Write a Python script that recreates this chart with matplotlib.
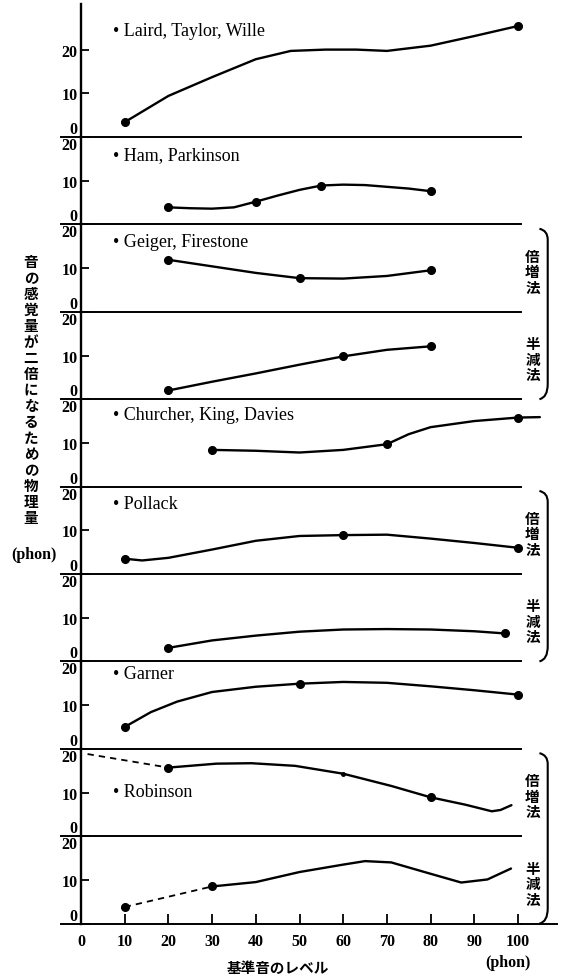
import matplotlib

matplotlib.use("Agg")
import matplotlib.pyplot as plt
from matplotlib.path import Path
from matplotlib.patches import PathPatch

# ---- data (x: reference level, phon; y: phon) ----
LAIRD_X = [10, 20, 30, 40, 48, 56, 63, 70, 80, 90, 100]
LAIRD_Y = [3.4, 9.4, 13.7, 17.8, 19.7, 20.0, 20.0, 19.7, 20.9, 23.1, 25.4]
LAIRD_MX = [10, 100]
LAIRD_MY = [3.4, 25.4]

HAM_X = [20, 25, 30, 35, 40, 45, 50, 55, 60, 65, 70, 75, 80]
HAM_Y = [3.9, 3.7, 3.6, 3.9, 5.2, 6.6, 7.9, 8.9, 9.1, 9.0, 8.6, 8.2, 7.6]
HAM_MX = [20, 40, 55, 80]
HAM_MY = [3.9, 5.2, 8.9, 7.6]

GEIGER_D_X = [20, 30, 40, 50, 60, 70, 80]
GEIGER_D_Y = [11.9, 10.4, 8.9, 7.7, 7.6, 8.2, 9.5]
GEIGER_D_MX = [20, 50, 80]
GEIGER_D_MY = [11.9, 7.7, 9.5]

GEIGER_H_X = [20, 30, 40, 50, 60, 70, 80]
GEIGER_H_Y = [2.0, 4.0, 5.9, 7.9, 9.8, 11.3, 12.1]
GEIGER_H_MX = [20, 60, 80]
GEIGER_H_MY = [2.0, 9.8, 12.1]

CHURCHER_X = [30, 40, 50, 60, 70, 75, 80, 90, 100, 105]
CHURCHER_Y = [8.4, 8.2, 7.8, 8.4, 9.7, 12.0, 13.6, 15.0, 15.8, 15.9]
CHURCHER_MX = [30, 70, 100]
CHURCHER_MY = [8.4, 9.7, 15.8]

POLLACK_D_X = [10, 14, 20, 30, 40, 50, 60, 70, 80, 90, 100]
POLLACK_D_Y = [3.5, 3.1, 3.7, 5.6, 7.6, 8.7, 8.9, 9.0, 8.1, 7.1, 6.0]
POLLACK_D_MX = [10, 60, 100]
POLLACK_D_MY = [3.5, 8.9, 6.0]

POLLACK_H_X = [20, 30, 40, 50, 60, 70, 80, 90, 97]
POLLACK_H_Y = [3.1, 4.8, 5.9, 6.8, 7.3, 7.4, 7.3, 6.9, 6.4]
POLLACK_H_MX = [20, 97]
POLLACK_H_MY = [3.1, 6.4]

GARNER_X = [10, 16, 22, 30, 40, 50, 60, 70, 80, 90, 100]
GARNER_Y = [5.0, 8.4, 10.8, 13.0, 14.2, 14.9, 15.3, 15.1, 14.3, 13.4, 12.4]
GARNER_MX = [10, 50, 100]
GARNER_MY = [5.0, 14.9, 12.4]

ROB_D_DASH_X = [1.5, 20]
ROB_D_DASH_Y = [18.8, 15.7]
ROB_D_X = [20, 31, 39, 49, 60, 71, 80, 88, 94, 96, 98.5]
ROB_D_Y = [15.7, 16.6, 16.7, 16.1, 14.3, 11.5, 8.9, 7.2, 5.7, 6.0, 7.1]
ROB_D_MX = [20, 80]
ROB_D_MY = [15.7, 8.9]

ROB_H_DASH_X = [10, 30]
ROB_H_DASH_Y = [3.8, 8.5]
ROB_H_X = [30, 40, 50, 60, 65, 71, 80, 87, 93, 98.4]
ROB_H_Y = [8.5, 9.5, 11.8, 13.5, 14.3, 14.0, 11.4, 9.4, 10.1, 12.6]
ROB_H_MX = [10, 30]
ROB_H_MY = [3.8, 8.5]

NAMES = ["Laird, Taylor, Wille", "Ham, Parkinson", "Geiger, Firestone", None,
         "Churcher, King, Davies", "Pollack", None, "Garner", "Robinson", None]
NAME_Y = [24.4, 15.9, 16.1, None, 16.6, 16.2, None, 17.3, 10.3, None]
XTICKS = [0, 10, 20, 30, 40, 50, 60, 70, 80, 90, 100]
YTICKS = [0, 10, 20]
YLABEL = "音の感覚量が二倍になるための物理量"
XLABEL = "基準音のレベル"
DOUBLE = "倍増法"
HALF = "半減法"

SERIF = ["Liberation Serif", "DejaVu Serif"]
CJK = ["Noto Sans CJK JP", "DejaVu Sans"]
plt.rcParams["font.family"] = SERIF

W, H = 562, 978
fig = plt.figure(figsize=(W / 100, H / 100), dpi=100)

PX = 4.37           # pixels per phon on both axes
LEFT, RIGHT = 61, 521
X0 = 81             # pixel of x = 0
XLIM = ((LEFT - X0) / PX, (RIGHT - X0) / PX)


def px_box(top, bottom):
    return [LEFT / W, 1 - bottom / H, (RIGHT - LEFT) / W, (bottom - top) / H]


axes = []
for i in range(10):
    bottom = 138 + 87.4 * i
    top = 5 if i == 0 else bottom - 87.4
    ax = fig.add_axes(px_box(top, bottom))
    ax.set_xlim(*XLIM)
    ax.set_ylim(0, (bottom - top) / PX)
    ax.patch.set_visible(False)
    for s in ("top", "right"):
        ax.spines[s].set_visible(False)
    ax.spines["left"].set_position(("data", 0))
    ax.spines["left"].set_linewidth(1.7)
    ax.spines["bottom"].set_linewidth(1.4)
    ax.set_yticks(YTICKS)
    ax.set_yticklabels([str(t) for t in YTICKS])
    ax.tick_params(axis="y", direction="in", length=6, width=1.3, pad=2.5,
                   labelsize=11.5)
    for lab in ax.get_yticklabels():
        lab.set_fontweight("bold")
    ticks = ax.yaxis.get_major_ticks()
    ticks[0].label1.set_verticalalignment("bottom")
    if i > 0:
        ticks[2].label1.set_verticalalignment("top")
    if i < 9:
        ax.set_xticks([])
    axes.append(ax)

CURVES = [
    (LAIRD_X, LAIRD_Y, LAIRD_MX, LAIRD_MY),
    (HAM_X, HAM_Y, HAM_MX, HAM_MY),
    (GEIGER_D_X, GEIGER_D_Y, GEIGER_D_MX, GEIGER_D_MY),
    (GEIGER_H_X, GEIGER_H_Y, GEIGER_H_MX, GEIGER_H_MY),
    (CHURCHER_X, CHURCHER_Y, CHURCHER_MX, CHURCHER_MY),
    (POLLACK_D_X, POLLACK_D_Y, POLLACK_D_MX, POLLACK_D_MY),
    (POLLACK_H_X, POLLACK_H_Y, POLLACK_H_MX, POLLACK_H_MY),
    (GARNER_X, GARNER_Y, GARNER_MX, GARNER_MY),
    (ROB_D_X, ROB_D_Y, ROB_D_MX, ROB_D_MY),
    (ROB_H_X, ROB_H_Y, ROB_H_MX, ROB_H_MY),
]

for ax, (cx, cy, mx, my) in zip(axes, CURVES):
    ax.plot(cx, cy, color="black", lw=1.7, solid_capstyle="round",
            solid_joinstyle="round", clip_on=False)
    ax.plot(mx, my, "o", color="black", ms=5.5, clip_on=False)

axes[8].plot(ROB_D_DASH_X, ROB_D_DASH_Y, color="black", lw=1.3,
             dashes=(3.5, 2.8))
axes[9].plot(ROB_H_DASH_X, ROB_H_DASH_Y, color="black", lw=1.3,
             dashes=(3.5, 2.8))
axes[8].plot([60], [14.3], "o", color="black", ms=2.5)

for ax, name, ny in zip(axes, NAMES, NAME_Y):
    if name:
        ax.text(7.4, ny, "\u2022 " + name, fontsize=13, va="center",
                ha="left")

# bottom axis
axb = axes[9]
axb.set_xticks(XTICKS)
axb.set_xticklabels([str(t) for t in XTICKS])
axb.tick_params(axis="x", direction="in", length=7, width=1.3, pad=7,
                labelsize=11.5)
for lab in axb.get_xticklabels():
    lab.set_fontweight("bold")
axb.plot([XLIM[1], 109], [0, 0], color="black", lw=1.4, clip_on=False)

# brackets with method labels (倍増法 / 半減法)
for k in (2, 5, 8):
    ax = axes[k]
    verts = [(104.9, 19.0), (106.8, 18.6), (106.8, 16.5), (106.8, 16.5),
             (106.8, -16.5), (106.8, -16.5), (106.8, -19.6), (104.9, -20.0)]
    codes = [Path.MOVETO, Path.CURVE3, Path.CURVE3, Path.LINETO,
             Path.LINETO, Path.LINETO, Path.CURVE3, Path.CURVE3]
    ax.add_patch(PathPatch(Path(verts, codes), fill=False, lw=1.5,
                           clip_on=False))
    ax.text(103.3, 9.3, "\n".join(DOUBLE), family=CJK, fontsize=10.5,
            fontweight="bold", ha="center", va="center", linespacing=0.95)
    axes[k + 1].text(103.3, 9.3, "\n".join(HALF), family=CJK, fontsize=10.5,
                     fontweight="bold", ha="center", va="center",
                     linespacing=0.95)

fig.text(31 / W, 1 - 390 / H, "\n".join(YLABEL), family=CJK, fontsize=10.5,
         fontweight="bold", ha="center", va="center", linespacing=1.0)
fig.text(34 / W, 1 - 555 / H, "(phon)", fontsize=11.5, fontweight="bold",
         ha="center", va="center")
fig.text(508 / W, 1 - 963 / H, "(phon)", fontsize=11.5, fontweight="bold",
         ha="center", va="center")
fig.text(227 / W, 1 - 976 / H, XLABEL, family=CJK, fontsize=10.5,
         fontweight="bold", ha="left", va="bottom")

fig.savefig("out.png", dpi=100)
